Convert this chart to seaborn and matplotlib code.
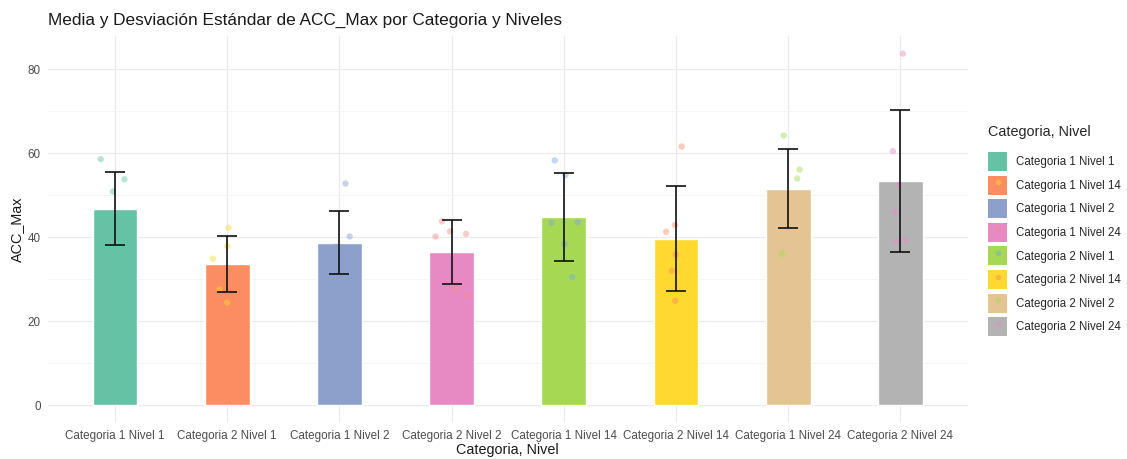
import numpy as np
import pandas as pd
import matplotlib
matplotlib.use("Agg")
import matplotlib.pyplot as plt
import seaborn as sns
from matplotlib.patches import Patch
from matplotlib.lines import Line2D
from matplotlib.ticker import MultipleLocator

# Groups in the order they appear along the x axis
groups = [
    "Categoria 1 Nivel 1", "Categoria 2 Nivel 1",
    "Categoria 1 Nivel 2", "Categoria 2 Nivel 2",
    "Categoria 1 Nivel 14", "Categoria 2 Nivel 14",
    "Categoria 1 Nivel 24", "Categoria 2 Nivel 24",
]
# Legend entries (factor levels in alphabetical order)
legend_labels = [
    "Categoria 1 Nivel 1", "Categoria 1 Nivel 14",
    "Categoria 1 Nivel 2", "Categoria 1 Nivel 24",
    "Categoria 2 Nivel 1", "Categoria 2 Nivel 14",
    "Categoria 2 Nivel 2", "Categoria 2 Nivel 24",
]

# Mean and standard deviation of ACC_Max per group
mean_acc = [46.8, 33.6, 38.7, 36.6, 44.8, 39.7, 51.6, 53.5]
sd_acc = [8.7, 6.6, 7.5, 7.6, 10.4, 12.5, 9.3, 16.9]

# Individual observations per group
obs_c1_n1 = [58.6, 53.8, 50.9, 41.4, 38.1]
obs_c2_n1 = [42.3, 37.9, 34.9, 27.6, 24.5]
obs_c1_n2 = [52.8, 40.2, 37.8, 36.9, 33.9, 31.3]
obs_c2_n2 = [43.8, 41.4, 40.8, 40.2, 27.8, 26.0]
obs_c1_n14 = [58.3, 54.8, 43.6, 43.4, 38.4, 30.5]
obs_c2_n14 = [61.6, 42.9, 41.3, 35.9, 32.0, 24.9]
obs_c1_n24 = [64.2, 56.1, 54.0, 36.1]
obs_c2_n24 = [83.7, 60.5, 52.5, 46.0, 39.5, 39.0]

observations = [obs_c1_n1, obs_c2_n1, obs_c1_n2, obs_c2_n2,
                obs_c1_n14, obs_c2_n14, obs_c1_n24, obs_c2_n24]

bar_colors = ["#66C2A5", "#FC8D62", "#8DA0CB", "#E78AC3",
              "#A6D854", "#FFD92F", "#E5C494", "#B3B3B3"]
point_colors = ["#66C2A5", "#FFD92F", "#8DA0CB", "#F08A8A",
                "#7FA8D6", "#FC8D62", "#A6D854", "#E78AC3"]

summary = pd.DataFrame({"grupo": groups, "media": mean_acc, "sd": sd_acc})
points = pd.DataFrame({
    "grupo": [g for g, vals in zip(groups, observations) for _ in vals],
    "acc": [v for vals in observations for v in vals],
})

sns.set_theme(style="white")
plt.rcParams["font.family"] = ["Liberation Sans", "DejaVu Sans"]

fig = plt.figure(figsize=(11.27, 4.59), dpi=100)
ax = fig.add_axes([0.0423, 0.0784, 0.8164, 0.8432])

sns.barplot(data=summary, x="grupo", y="media", hue="grupo", order=groups,
            hue_order=groups, palette=bar_colors, width=0.4, saturation=1,
            legend=False, ax=ax, zorder=2)

np.random.seed(7)
sns.stripplot(data=points, x="grupo", y="acc", hue="grupo", order=groups,
              hue_order=groups, palette=point_colors, jitter=0.15, size=4.6,
              alpha=0.45, linewidth=0, legend=False, ax=ax, zorder=3)

ax.errorbar(x=np.arange(len(groups)), y=summary["media"], yerr=summary["sd"],
            fmt="none", ecolor="#111111", elinewidth=1.2, capsize=7.5,
            capthick=1.2, zorder=4)

ax.set_xlim(-0.6, 7.6)
ax.set_ylim(-4.19, 87.9)
ax.yaxis.set_major_locator(MultipleLocator(20))
ax.yaxis.set_minor_locator(MultipleLocator(10))
ax.grid(True, which="major", color="#EBEBEB", linewidth=0.9)
ax.grid(True, which="minor", axis="y", color="#F4F4F4", linewidth=0.7)
ax.set_axisbelow(True)
for s in ax.spines.values():
    s.set_visible(False)
ax.tick_params(axis="both", which="both", length=0, labelsize=8.4,
               labelcolor="#4D4D4D")
ax.tick_params(axis="x", pad=5)
ax.tick_params(axis="y", pad=5)

ax.set_xlabel("Categoria, Nivel", fontsize=10.4, color="#1A1A1A", labelpad=1)
ax.set_ylabel("ACC_Max", fontsize=10.4, color="#1A1A1A", labelpad=3)

fig.text(0.0426, 0.956, "Media y Desviación Estándar de ACC_Max por Categoria y Niveles",
         fontsize=12.4, color="#1A1A1A", ha="left", va="center")

handles = []
for bc, pc in zip(bar_colors, point_colors):
    box = Patch(facecolor=bc, edgecolor="none")
    dot = Line2D([], [], linestyle="none", marker="o", markersize=4,
                 markerfacecolor=pc, markeredgewidth=0, alpha=0.5)
    handles.append((box, dot))

leg = fig.legend(handles, legend_labels, title="Categoria, Nivel",
                 loc="center left", bbox_to_anchor=(0.877, 0.497),
                 frameon=False, fontsize=8.3, title_fontsize=10.4,
                 handlelength=1.65, handleheight=2.16, labelspacing=0.4,
                 handletextpad=0.75, borderaxespad=0, borderpad=0)
leg._legend_box.align = "left"
leg._legend_box.sep = 9

fig.savefig("out.png", dpi=100, facecolor="white")
